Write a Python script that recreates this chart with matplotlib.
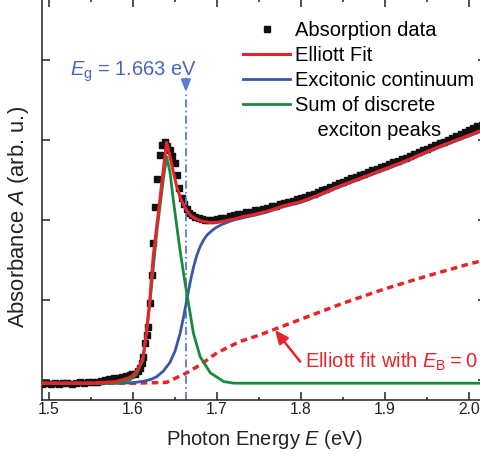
import matplotlib
matplotlib.use("Agg")
import matplotlib.pyplot as plt
from matplotlib.lines import Line2D

plt.rcParams["font.family"] = ["Liberation Sans", "DejaVu Sans"]
plt.rcParams["mathtext.fontset"] = "custom"
plt.rcParams["mathtext.rm"] = "Liberation Sans"
plt.rcParams["mathtext.it"] = "Liberation Sans:italic"

RED = "#e8242b"
BLUE = "#3a56a8"
GREEN = "#19893b"
EG_BLUE = "#5a7bd4"

EG = 1.663

# measured absorption (photon energy in eV, absorbance in arb. u.)
data_e = [
    1.492, 1.497, 1.502, 1.507, 1.512, 1.517, 1.522, 1.527, 1.532, 1.537,
    1.542, 1.547, 1.552, 1.557, 1.562, 1.567, 1.572, 1.577, 1.582, 1.587,
    1.592, 1.596, 1.599, 1.6024, 1.6054, 1.6083, 1.6103, 1.6123, 1.6143, 1.6162,
    1.618, 1.6202, 1.6222, 1.6242, 1.626, 1.629, 1.632, 1.635, 1.638, 1.641,
    1.644, 1.647, 1.650, 1.652, 1.655, 1.658, 1.661, 1.664, 1.667, 1.670,
    1.674, 1.678, 1.682, 1.686, 1.690, 1.695, 1.700, 1.705, 1.710, 1.715,
    1.720, 1.725, 1.730, 1.735, 1.740, 1.745, 1.750, 1.755, 1.760, 1.765,
    1.770, 1.775, 1.780, 1.785, 1.790, 1.795, 1.800, 1.805, 1.810, 1.815,
    1.820, 1.825, 1.830, 1.835, 1.840, 1.845, 1.850, 1.855, 1.860, 1.865,
    1.870, 1.875, 1.880, 1.885, 1.890, 1.895, 1.900, 1.905, 1.910, 1.915,
    1.920, 1.925, 1.930, 1.935, 1.940, 1.945, 1.950, 1.955, 1.960, 1.965,
    1.970, 1.975, 1.980, 1.985, 1.990, 1.995, 2.000, 2.005, 2.010, 2.015,
]
data_a = [
    -0.05, -0.04, -0.05, -0.04, -0.05, -0.04, -0.04, -0.05, -0.04, -0.03,
    -0.04, -0.03, -0.03, -0.02, -0.01, 0.00, 0.01, 0.02, 0.03, 0.04,
    0.05, 0.06, 0.07, 0.08, 0.11, 0.15, 0.21, 0.29, 0.46, 0.56,
    0.66, 0.96, 1.31, 1.71, 2.16, 2.51, 2.81, 2.94, 2.97, 2.93,
    2.88, 2.80, 2.71, 2.56, 2.40, 2.27, 2.20, 2.14, 2.09, 2.06,
    2.04, 2.02, 2.01, 2.00, 2.00, 2.00, 2.01, 2.02, 2.03, 2.05,
    2.06, 2.07, 2.08, 2.10, 2.10, 2.12, 2.13, 2.14, 2.15, 2.17,
    2.18, 2.20, 2.21, 2.23, 2.24, 2.26, 2.27, 2.29, 2.31, 2.33,
    2.35, 2.37, 2.39, 2.41, 2.44, 2.46, 2.48, 2.50, 2.52, 2.54,
    2.56, 2.58, 2.60, 2.62, 2.64, 2.66, 2.68, 2.70, 2.72, 2.74,
    2.76, 2.78, 2.80, 2.82, 2.85, 2.87, 2.89, 2.91, 2.94, 2.96,
    2.98, 3.00, 3.03, 3.05, 3.07, 3.10, 3.12, 3.15, 3.17, 3.19,
]

# Elliott fit
fit_e = [1.49, 1.55, 1.58, 1.596, 1.600, 1.604, 1.608, 1.612, 1.616, 1.620,
         1.624, 1.628, 1.632, 1.636, 1.640, 1.644, 1.648, 1.652, 1.656, 1.660,
         1.664, 1.668, 1.674, 1.680, 1.690, 1.700, 1.710, 1.720, 1.730, 1.740,
         1.760, 1.780, 1.800, 1.820, 1.840, 1.860, 1.880, 1.900, 1.920, 1.940,
         1.960, 1.980, 2.000, 2.015]
fit_a = [-0.04, -0.04, -0.02, 0.03, 0.06, 0.10, 0.18, 0.29, 0.58, 1.00,
         1.54, 1.90, 2.25, 2.62, 2.97, 2.80, 2.60, 2.42, 2.29, 2.19,
         2.12, 2.06, 2.02, 1.99, 1.97, 1.97, 1.99, 2.01, 2.04, 2.06,
         2.11, 2.18, 2.23, 2.31, 2.40, 2.48, 2.56, 2.64, 2.72, 2.81,
         2.90, 2.98, 3.06, 3.12]

# excitonic continuum
cont_e = [1.49, 1.58, 1.60, 1.615, 1.622, 1.628, 1.636, 1.644, 1.650, 1.656,
          1.660, 1.664, 1.668, 1.672, 1.676, 1.680, 1.684, 1.688, 1.692, 1.698,
          1.705, 1.712, 1.720, 1.728, 1.736, 1.745, 1.760, 1.780, 1.800, 1.820,
          1.840, 1.860, 1.880, 1.900, 1.920, 1.940, 1.960, 1.980, 2.000, 2.015]
cont_a = [-0.04, -0.04, -0.035, -0.01, 0.01, 0.04, 0.11, 0.22, 0.36, 0.58,
          0.78, 1.00, 1.22, 1.41, 1.56, 1.67, 1.75, 1.81, 1.85, 1.90,
          1.94, 1.97, 2.00, 2.02, 2.04, 2.06, 2.10, 2.17, 2.22, 2.30,
          2.39, 2.47, 2.55, 2.63, 2.71, 2.80, 2.89, 2.97, 3.05, 3.11]

# sum of discrete exciton peaks
exc_e = [1.49, 1.58, 1.596, 1.604, 1.612, 1.620, 1.628, 1.636, 1.640, 1.644,
         1.648, 1.652, 1.656, 1.662, 1.666, 1.672, 1.680, 1.692, 1.708, 1.720,
         1.800, 2.015]
exc_a = [-0.04, -0.04, 0.00, 0.07, 0.25, 0.95, 1.82, 2.50, 2.79, 2.60,
         2.25, 1.93, 1.62, 1.21, 0.96, 0.58, 0.29, 0.09, -0.02, -0.04,
         -0.04, -0.04]

# Elliott fit with zero binding energy
eb0_e = [1.49, 1.60, 1.64, 1.664, 1.68, 1.70, 1.727, 1.75, 1.80, 1.85,
         1.90, 1.95, 2.00, 2.015]
eb0_a = [-0.04, -0.04, -0.03, 0.09, 0.19, 0.34, 0.48, 0.56, 0.76, 0.96,
         1.14, 1.30, 1.45, 1.49]

fig = plt.figure(figsize=(4.81, 4.57), dpi=100)
ax = fig.add_axes([42 / 481, 1 - 400 / 457, 444 / 481, 401 / 457])

ax.plot(data_e, data_a, ls="none", marker="s", ms=4.1, color="#111111",
        zorder=1, label="Absorption data")
ax.plot(eb0_e, eb0_a, color=RED, lw=2.5, ls=(0, (1.9, 1.3)), zorder=2)
ax.plot([EG, EG], [-0.25, 3.6], color=EG_BLUE, lw=1.3,
        ls=(0, (4.5, 1.8, 0.9, 1.8)), zorder=2)
ax.plot(cont_e, cont_a, color=BLUE, lw=2.0, zorder=3, label="Excitonic continuum")
ax.plot(exc_e, exc_a, color=GREEN, lw=2.0, zorder=4,
        label="Sum of discrete")
ax.plot(fit_e, fit_a, color=RED, lw=2.2, zorder=5, label="Elliott Fit")

ax.annotate("", xy=(EG, 3.6), xytext=(EG, 3.77),
            arrowprops=dict(arrowstyle="-|>,head_length=0.75,head_width=0.3",
                            color=EG_BLUE, lw=1.3, shrinkA=0, shrinkB=0))
ax.text(1.525, 3.81, r"$E_\mathrm{g}$ = %.3f eV" % EG, color="#4a66bb",
        fontsize=14.5, ha="left", va="baseline")

ax.annotate("", xy=(1.769, 0.625), xytext=(1.799, 0.23),
            arrowprops=dict(arrowstyle="-|>,head_length=0.8,head_width=0.35",
                            color=RED, lw=1.8, shrinkA=0, shrinkB=0))
ax.text(1.805, 0.15, "Elliott fit with $E_\\mathrm{B}$\u2009=\u20090", color=RED,
        fontsize=14.5, ha="left", va="baseline")

handles, labels = ax.get_legend_handles_labels()
order = ["Absorption data", "Elliott Fit", "Excitonic continuum", "Sum of discrete"]
hmap = dict(zip(labels, handles))
leg_handles = [hmap[k] for k in order] + [Line2D([], [], ls="none")]
leg_labels = order + ["    exciton peaks"]
ax.legend(leg_handles, leg_labels, loc="upper left", bbox_to_anchor=(0.4527, 0.946),
          frameon=False, fontsize=14.5, handlelength=2.35, handletextpad=0.25,
          labelspacing=0.3, borderpad=0, borderaxespad=0, numpoints=1)

ax.set_xlim(1.49167, 2.0202)
ax.set_ylim(-0.25, 4.7625)
ax.set_xticks([1.5, 1.6, 1.7, 1.8, 1.9, 2.0])
ax.set_xticks([1.55, 1.65, 1.75, 1.85, 1.95], minor=True)
ax.set_yticks([0, 1, 2, 3, 4])
ax.set_yticklabels([])
ax.tick_params(which="both", direction="in", top=True, right=True,
               width=1.1, color="#222222", labelsize=11.3, pad=1.5,
               labelcolor="#222222")
ax.tick_params(which="major", length=5.8)
ax.tick_params(which="minor", length=2.5)
for sp in ax.spines.values():
    sp.set_linewidth(1.1)
    sp.set_color("#222222")

ax.set_xlabel(r"Photon Energy $E$ (eV)", fontsize=14.5, color="#222222")
ax.set_ylabel(r"Absorbance $A$ (arb. u.)", fontsize=15.8, color="#222222")
ax.xaxis.set_label_coords(0.5, -0.07)
ax.xaxis.label.set_va("top")
ax.yaxis.set_label_coords(-0.025, 0.456)

fig.savefig("out.png", dpi=100)
